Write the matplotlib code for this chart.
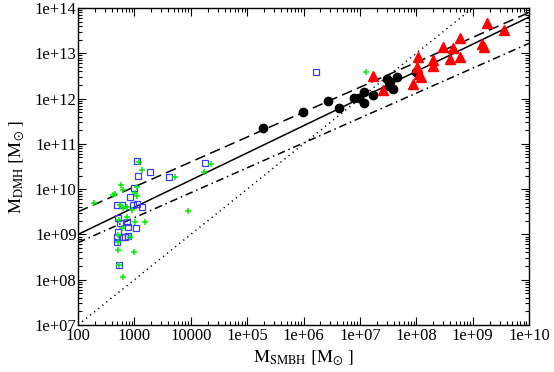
import numpy as np
import matplotlib
matplotlib.use("Agg")
import matplotlib.pyplot as plt
from matplotlib.ticker import FixedLocator, LogLocator, NullFormatter

plt.rcParams['font.family'] = ['Liberation Serif', 'DejaVu Serif']
plt.rcParams['mathtext.fontset'] = 'stix'

# log10 masses
circ_x = [5.28, 5.99, 6.43, 6.63, 6.89, 6.98, 7.07, 7.07, 7.23, 7.48, 7.53, 7.51, 7.59, 7.66, 7.99]
circ_y = [11.35, 11.70, 11.95, 11.79, 12.01, 12.01, 11.90, 12.15, 12.08, 12.43, 12.37, 12.28, 12.21, 12.48, 12.59]

tri_x = [7.23, 7.41, 7.94, 8.01, 8.03, 8.05, 8.08, 8.29, 8.29, 8.47, 8.65, 8.60, 8.77, 8.77, 9.16, 9.20, 9.25, 9.55]
tri_y = [12.50, 12.19, 12.32, 12.70, 12.92, 12.54, 12.48, 12.85, 12.72, 13.14, 13.12, 12.87, 13.34, 12.92, 13.21, 13.14, 13.67, 13.51]

sq_x = [3.05, 3.28, 3.06, 3.61, 4.25, 2.99, 2.98, 2.92, 3.05, 3.13, 2.69, 2.78, 2.71,
        2.74, 2.87, 2.89, 3.03, 2.71, 2.69, 2.78, 2.69, 2.83, 2.73, 2.89, 6.22]
sq_y = [10.62, 10.38, 10.29, 10.27, 10.58, 10.03, 9.65, 9.83, 9.67, 9.61, 9.65, 9.65, 9.36,
        9.25, 9.28, 9.17, 9.14, 9.06, 8.94, 8.94, 8.83, 8.94, 8.33, 8.97, 12.59]

cr_x = [3.08, 3.13, 3.72, 4.36, 4.23, 2.76, 2.80, 2.66, 2.62, 2.28, 3.01, 3.05, 3.05, 2.87, 2.74, 2.80,
        2.96, 3.95, 3.19, 3.01, 2.87, 2.73, 2.78, 2.71, 2.92, 2.71, 2.71, 2.99, 2.80, 2.73, 7.11]
cr_y = [10.60, 10.42, 10.27, 10.56, 10.38, 10.09, 9.98, 9.89, 9.87, 9.70, 9.92, 9.85, 10.05, 9.61, 9.65, 9.58,
        9.54, 9.52, 9.28, 9.28, 9.39, 9.32, 9.14, 8.99, 8.94, 8.83, 8.66, 8.61, 8.06, 8.33, 12.59]

# relations: log M_DMH = slope * (log M_SMBH - 2) + value at M_SMBH = 100
solid_rel = (0.60, 9.0)
dashed_rel = (0.55, 9.5)
dashdot_rel = (0.55, 8.82)
dotted_rel = (1.0, 7.0)

xticks = [1e2, 1e3, 1e4, 1e5, 1e6, 1e7, 1e8, 1e9, 1e10]
xlabels = ['100', '1000', '10000', '1e+05', '1e+06', '1e+07', '1e+08', '1e+09', '1e+10']
yticks = [1e7, 1e8, 1e9, 1e10, 1e11, 1e12, 1e13, 1e14]
ylabels = ['1e+07', '1e+08', '1e+09', '1e+10', '1e+11', '1e+12', '1e+13', '1e+14']

fig = plt.figure(figsize=(5.54, 3.72), dpi=100)
ax = fig.add_axes([0.1408, 0.1263, 0.8141, 0.8522])

lx = np.linspace(2, 10, 200)
def rel(p):
    return 10 ** (p[0] * (lx - 2) + p[1])

ax.plot(10 ** lx, rel(solid_rel), color='black', lw=1.1)
ax.plot(10 ** lx, rel(dashed_rel), color='black', lw=1.1, dashes=(7, 3.5))
ax.plot(10 ** lx, rel(dashdot_rel), color='black', lw=1.1, dashes=(5, 2.5, 1, 2.5))
ax.plot(10 ** lx, rel(dotted_rel), color='black', lw=1.1, dashes=(0.8, 2.6))

ax.plot(10 ** np.array(circ_x), 10 ** np.array(circ_y), 'o', color='black', ms=6, mec='black')
ax.plot(10 ** np.array(tri_x), 10 ** np.array(tri_y), '^', color='red', ms=6.5, mec='red')
ax.plot(10 ** np.array(sq_x), 10 ** np.array(sq_y), 's', mfc='none', mec='#3a3aff', ms=4, mew=0.9)
ax.plot(10 ** np.array(cr_x), 10 ** np.array(cr_y), '+', color='#00ee00', ms=5, mew=1.1)

ax.set_xscale('log')
ax.set_yscale('log')
ax.set_xlim(1e2, 1e10)
ax.set_ylim(1e7, 1e14)

ax.xaxis.set_major_locator(FixedLocator(xticks))
ax.set_xticklabels(xlabels)
ax.yaxis.set_major_locator(FixedLocator(yticks))
ax.set_yticklabels(ylabels)
ax.xaxis.set_minor_locator(LogLocator(base=10, subs=np.arange(2, 10), numticks=20))
ax.yaxis.set_minor_locator(LogLocator(base=10, subs=np.arange(2, 10), numticks=20))
ax.xaxis.set_minor_formatter(NullFormatter())
ax.yaxis.set_minor_formatter(NullFormatter())

ax.tick_params(which='both', direction='in', top=True, right=True, labelsize=12, width=0.8)
ax.tick_params(which='major', length=6, pad=2)
ax.tick_params(which='minor', length=3)
ax.tick_params(axis='y', pad=1)
for s in ax.spines.values():
    s.set_linewidth(1.0)

ax.set_xlabel(r'$\mathrm{M_{SMBH}\ [M_{\odot}\ ]}$', fontsize=13, labelpad=3)
ax.set_ylabel(r'$\mathrm{M_{DMH}\ [M_{\odot}\ ]}$', fontsize=13, labelpad=6)

fig.savefig('out.png', dpi=100)
